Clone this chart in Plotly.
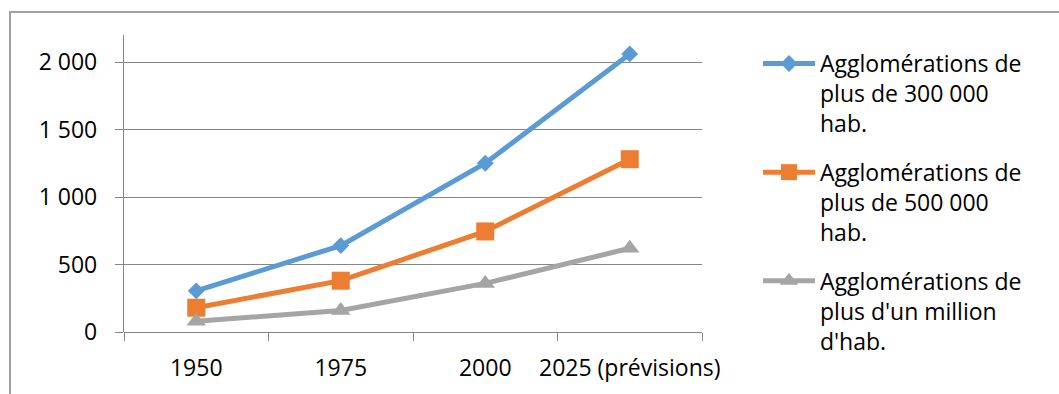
import plotly.graph_objects as go

# Categories and series (number of agglomerations)
years = ["1950", "1975", "2000", "2025 (prévisions)"]
plus_300k = [305, 640, 1250, 2060]
plus_500k = [180, 380, 745, 1280]
plus_1m = [80, 160, 360, 620]

series_names = [
    "Agglomérations de<br>plus de 300 000<br>hab.",
    "Agglomérations de<br>plus de 500 000<br>hab.",
    "Agglomérations de<br>plus d'un million<br>d'hab.",
]

y_tickvals = [0, 500, 1000, 1500, 2000]
y_ticktext = ["0", "500", "1 000", "1 500", "2 000"]

FONT = "Open Sans"
W, H = 1059, 394
L, R, T, B = 124, 357, 35, 62
plot_w = W - L - R
plot_h = H - T - B


def px_x(px):
    return (px - L) / plot_w


def px_y(py):
    return (H - B - py) / plot_h


fig = go.Figure()

styles = [
    (plus_300k, "#5B9BD5", "diamond", 13),
    (plus_500k, "#ED7D31", "square", 18),
    (plus_1m, "#A5A5A5", "triangle-up", 17),
]

for i, ((vals, color, symbol, size), name) in enumerate(zip(styles, series_names)):
    fig.add_trace(go.Scatter(
        x=years, y=vals, name=name, legendgroup=f"g{i}",
        mode="lines+markers",
        line=dict(color=color, width=5),
        marker=dict(color=color, symbol=symbol, size=size, line=dict(width=0)),
    ))

# Chart frame (top and left edges)
fig.add_shape(
    type="path", xref="paper", yref="paper",
    path=f"M {px_x(10)} {px_y(400)} L {px_x(10)} {px_y(12)} L {px_x(1062)} {px_y(12)}",
    line=dict(color="#A0A0A0", width=2),
)

fig.update_layout(
    width=W, height=H,
    margin=dict(l=L, r=R, t=T, b=B, autoexpand=False),
    paper_bgcolor="white", plot_bgcolor="white",
    font=dict(family=FONT, size=23, color="black"),
    showlegend=True,
    legend=dict(
        x=px_x(758), y=px_y(42), xanchor="left", yanchor="top",
        font=dict(family=FONT, size=23, color="black"),
        itemwidth=52, valign="top", tracegroupgap=16,
        bgcolor="rgba(0,0,0,0)", maxheight=400,
    ),
    xaxis=dict(
        type="category", range=[-0.5, 3.5], tickangle=0, automargin=False,
        tickson="boundaries", ticks="outside", ticklen=8, tickwidth=1.3,
        tickcolor="#868686", showline=False, showgrid=False, zeroline=False,
        ticklabelstandoff=20,
        tickfont=dict(family=FONT, size=23, color="black"),
    ),
    yaxis=dict(
        range=[0, 2200], tickvals=y_tickvals, ticktext=y_ticktext, automargin=False,
        ticks="outside", ticklen=8, tickwidth=1.3, tickcolor="#868686",
        showline=True, linecolor="#868686", linewidth=1.3,
        showgrid=True, gridcolor="#868686", gridwidth=1.3,
        zeroline=True, zerolinecolor="#868686", zerolinewidth=1.3,
        ticklabelstandoff=13,
        tickfont=dict(family=FONT, size=23, color="black"),
    ),
)

fig.write_html("out.html")
